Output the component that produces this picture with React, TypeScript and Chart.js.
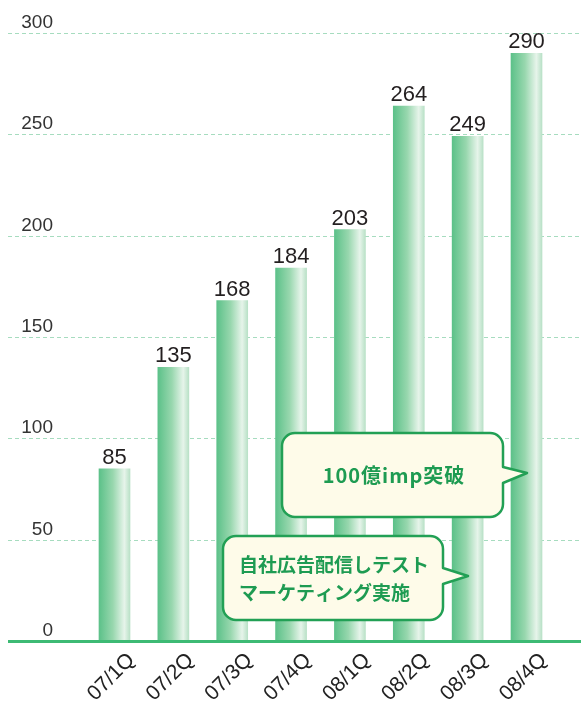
import React, { useEffect, useRef } from "react";
import { Chart, registerables } from "chart.js";

Chart.register(...registerables);

const categories = ["07/1Q", "07/2Q", "07/3Q", "07/4Q", "08/1Q", "08/2Q", "08/3Q", "08/4Q"];
const values = [85, 135, 168, 184, 203, 264, 249, 290];
const yTicks = [0, 50, 100, 150, 200, 250, 300];
const callout1Text = "100億imp突破";
const callout2Lines = ["自社広告配信しテスト", "マーケティング実施"];

const GREEN = "#1e9b52";
const NUM_FONT = '"Liberation Sans", Arial, sans-serif';
const JP_FONT = '"Noto Sans CJK JP", sans-serif';

function calloutPath(
  ctx: CanvasRenderingContext2D,
  x: number, y: number, w: number, h: number, r: number,
  tTop: number, tBot: number, tipX: number, tipY: number
) {
  const R = x + w, B = y + h;
  ctx.beginPath();
  ctx.moveTo(x + r, y);
  ctx.lineTo(R - r, y);
  ctx.arcTo(R, y, R, y + r, r);
  ctx.lineTo(R, tTop);
  ctx.lineTo(tipX, tipY);
  ctx.lineTo(R, tBot);
  ctx.lineTo(R, B - r);
  ctx.arcTo(R, B, R - r, B, r);
  ctx.lineTo(x + r, B);
  ctx.arcTo(x, B, x, B - r, r);
  ctx.lineTo(x, y + r);
  ctx.arcTo(x, y, x + r, y, r);
  ctx.closePath();
}

const decorPlugin = {
  id: "decor",
  beforeDatasetsDraw(chart: any) {
    const ctx: CanvasRenderingContext2D = chart.ctx;
    const ys = chart.scales.y;
    ctx.save();
    ctx.strokeStyle = "#a6dcbf";
    ctx.lineWidth = 1;
    ctx.setLineDash([4, 3]);
    yTicks.forEach((v) => {
      if (v === 0) return;
      const py = Math.round(ys.getPixelForValue(v)) + 0.5;
      ctx.beginPath();
      ctx.moveTo(8, py);
      ctx.lineTo(581, py);
      ctx.stroke();
    });
    ctx.setLineDash([]);
    ctx.fillStyle = "#333";
    ctx.font = `19px ${NUM_FONT}`;
    ctx.textAlign = "right";
    ctx.textBaseline = "alphabetic";
    yTicks.forEach((v) => {
      const py = ys.getPixelForValue(v);
      ctx.fillText(String(v), 53, py - 5);
    });
    ctx.restore();
  },
  afterDatasetsDraw(chart: any) {
    const ctx: CanvasRenderingContext2D = chart.ctx;
    const ys = chart.scales.y;
    ctx.save();
    // baseline
    const by = ys.getPixelForValue(0);
    ctx.strokeStyle = "#3dba74";
    ctx.lineWidth = 3;
    ctx.beginPath();
    ctx.moveTo(8, by + 0.5);
    ctx.lineTo(581, by + 0.5);
    ctx.stroke();
    // value labels
    const meta = chart.getDatasetMeta(0);
    ctx.fillStyle = "#231f20";
    ctx.font = `22px ${NUM_FONT}`;
    ctx.textAlign = "center";
    ctx.textBaseline = "alphabetic";
    meta.data.forEach((bar: any, i: number) => {
      ctx.fillText(String(values[i]), bar.x, bar.y - 5);
    });
    // callouts
    ctx.lineJoin = "round";
    ctx.lineWidth = 2.5;
    ctx.strokeStyle = "#22a055";
    ctx.fillStyle = "#fefbe9";
    calloutPath(ctx, 282, 433, 221, 84, 13, 467, 483, 527, 473);
    ctx.fill();
    ctx.stroke();
    calloutPath(ctx, 223, 536, 220, 84, 13, 568, 584, 468, 576);
    ctx.fillStyle = "#fefbe9";
    ctx.fill();
    ctx.stroke();
    ctx.fillStyle = GREEN;
    ctx.textBaseline = "middle";
    ctx.font = `bold 20px ${JP_FONT}`;
    (ctx as any).letterSpacing = "1px";
    ctx.textAlign = "center";
    ctx.fillText(callout1Text, 394, 475);
    (ctx as any).letterSpacing = "0px";
    ctx.font = `bold 19px ${JP_FONT}`;
    ctx.textAlign = "left";
    ctx.fillText(callout2Lines[0], 239, 565);
    ctx.fillText(callout2Lines[1], 239, 593);
    ctx.restore();
  },
};

export default function App() {
  const ref = useRef<HTMLCanvasElement>(null);
  useEffect(() => {
    if (!ref.current) return;
    const chart = new Chart(ref.current, {
      type: "bar",
      data: {
        labels: categories,
        datasets: [
          {
            data: values,
            barThickness: 31,
            borderWidth: 0,
            backgroundColor: (c: any) => {
              const ch = c.chart;
              if (!ch.chartArea || c.dataIndex === undefined) return "#7ccb9b";
              const x = ch.scales.x.getPixelForValue(c.dataIndex);
              const g = ch.ctx.createLinearGradient(x - 15.5, 0, x + 15.5, 0);
              g.addColorStop(0, "#5cc189");
              g.addColorStop(0.45, "#98d7ae");
              g.addColorStop(0.82, "#e6f4ea");
              g.addColorStop(1, "#b9e1c7");
              return g;
            },
          },
        ],
      },
      options: {
        responsive: false,
        animation: false,
        layout: { padding: { left: 85.07, right: 25.07, top: 33, bottom: 0 } },
        plugins: { legend: { display: false }, tooltip: { enabled: false } },
        scales: {
          y: { display: false, min: 0, max: 300, ticks: { stepSize: 50 } },
          x: {
            grid: { display: false },
            border: { display: false },
            ticks: {
              minRotation: 45,
              maxRotation: 45,
              color: "#222",
              font: { family: NUM_FONT, size: 21 },
              padding: -1,
              labelOffset: 17,
            },
            afterFit: (s: any) => {
              s.height = 60;
            },
          },
        },
      },
      plugins: [decorPlugin],
    });
    return () => chart.destroy();
  }, []);
  return (
    <div style={{ position: "fixed", left: 0, top: 0, width: 581, height: 701, background: "#fff" }}>
      <canvas ref={ref} width={581} height={701} style={{ width: 581, height: 701 }} />
    </div>
  );
}
